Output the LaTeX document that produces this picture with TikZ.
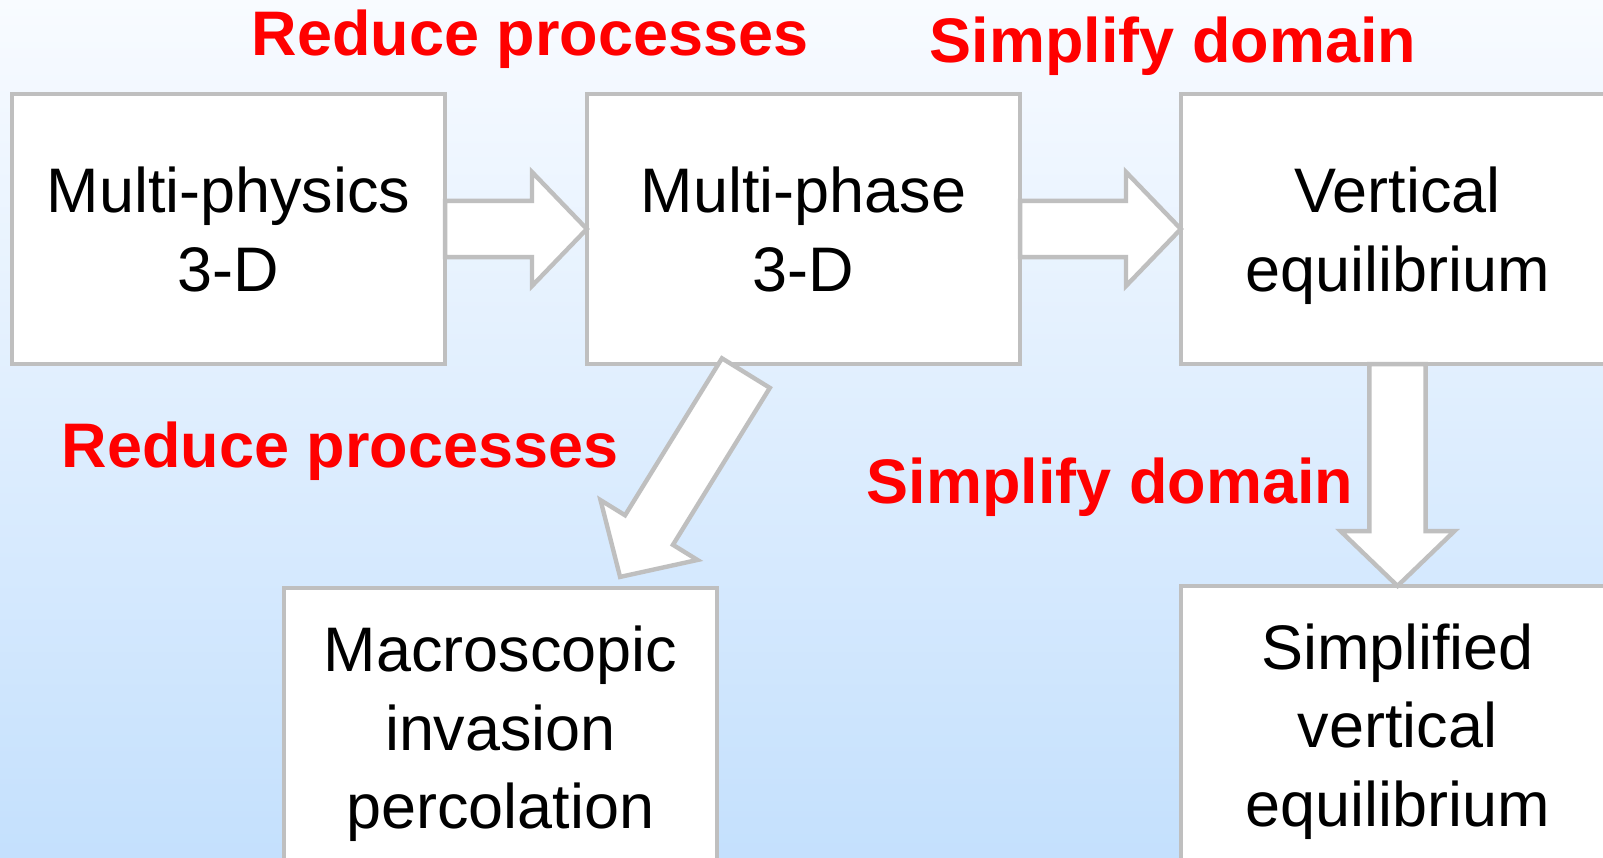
\documentclass[tikz,border=0pt]{standalone}
\usepackage{fontspec}
\setmainfont{Liberation Sans}
\usetikzlibrary{calc}
\definecolor{boxgray}{RGB}{191,191,191}
\definecolor{bgtop}{RGB}{248,251,255}
\definecolor{bgbottom}{RGB}{196,224,253}
% hollow block arrow from #1 to #2
\newcommand{\blockarrow}[2]{%
  \draw[blockarr] let \p1=(#1), \p2=(#2),
    \n1={atan2(\y2-\y1,\x2-\x1)}, \n2={veclen(\x2-\x1,\y2-\y1)-15.6pt} in
    ($(\p1)+(\n1+90:8pt)$) -- ($(\p1)+(\n1:\n2)+(\n1+90:8pt)$)
    -- ($(\p1)+(\n1:\n2)+(\n1+90:16.2pt)$) -- (\p2)
    -- ($(\p1)+(\n1:\n2)+(\n1-90:16.2pt)$)
    -- ($(\p1)+(\n1:\n2)+(\n1-90:8pt)$)
    -- ($(\p1)+(\n1-90:8pt)$) -- cycle;}
\begin{document}
\begin{tikzpicture}[x=0.01cm,y=-0.01cm,
  stage/.style={draw=boxgray, fill=white, line width=1.25pt, outer sep=0pt,
    minimum width=4.33cm, minimum height=2.7cm, align=center, text depth=0pt,
    font=\fontsize{17.9}{22.3}\selectfont},
  redlabel/.style={text=red, anchor=base, font=\fontsize{17.9}{21}\selectfont\bfseries},
  blockarr/.style={draw=boxgray, fill=white, line width=1.25pt, line join=miter}]
  %%%%%%%%%%%%%background%%%%%%%%%%%%%%%%%%%%%%
  \useasboundingbox (0,0) rectangle (1603,858);
  \shade[top color=bgtop, bottom color=bgbottom] (0,0) rectangle (1603,858);

  %%%%%%%%%%%%%the boxes%%%%%%%%%%%%%%%%%%%%%%
  \node[stage] (mphys) at (228.5,229) {Multi-physics\\3-D};
  \node[stage] (mphase) at (803.5,229) {Multi-phase\\3-D};
  \node[stage] (vert) at (1397.5,229) {Vertical\\equilibrium};
  \node[stage, minimum height=2.79cm] (macro) at (500.5,727.5) {Macroscopic\\invasion\\percolation};
  \node[stage, minimum height=2.78cm] (simpvert) at (1397.5,725) {Simplified\\vertical\\equilibrium};

  %%%%%%%%%%%%%the arrows%%%%%%%%%%%%%%%%%%%%%%
  \coordinate (dtail) at ($(mphase.south west)!0.367!(mphase.south east)+(0,9)$);
  \coordinate (dtip) at ($(macro.north west)!0.776!(macro.north east)+(0,-11)$);
  \blockarrow{mphys.east}{mphase.west}
  \blockarrow{mphase.east}{vert.west}
  \blockarrow{vert.south}{simpvert.north}
  \blockarrow{dtail}{dtip}

  %%%%%%%%%%%%%the labels%%%%%%%%%%%%%%%%%%%%%%
  \node[redlabel] (reduce1) at (530,56) {Reduce processes};
  \node[redlabel] (simplify1) at (1173,63) {Simplify domain};
  \node[redlabel] (reduce2) at (340,468) {Reduce processes};
  \node[redlabel] (simplify2) at (1110,503) {Simplify domain};
\end{tikzpicture}
\end{document}
